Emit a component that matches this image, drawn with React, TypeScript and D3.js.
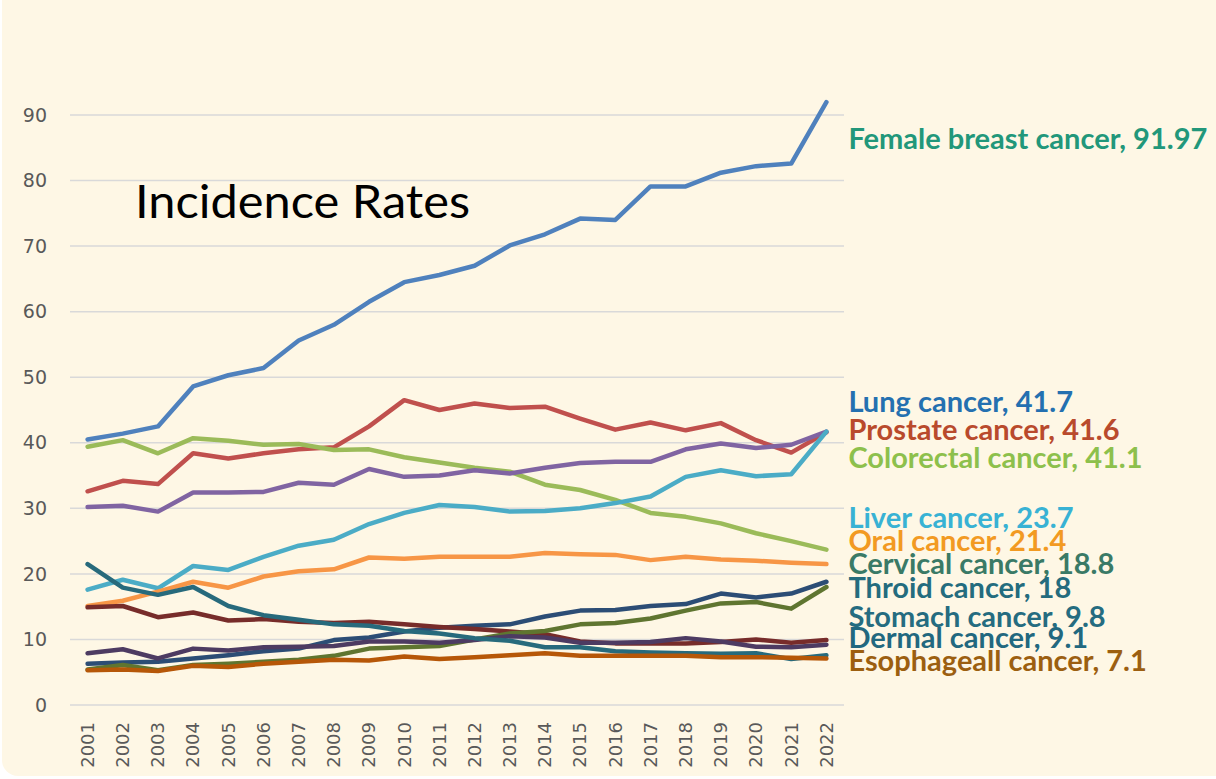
import React from 'react';
import * as d3 from 'd3';

const years = [
  '2001', '2002', '2003', '2004', '2005', '2006', '2007', '2008', '2009', '2010', '2011',
  '2012', '2013', '2014', '2015', '2016', '2017', '2018', '2019', '2020', '2021', '2022',
];

const yTicks = [0, 10, 20, 30, 40, 50, 60, 70, 80, 90];

// series in the order Excel drew them (later ones sit on top)
const blueSeries = [40.5, 41.4, 42.5, 48.6, 50.3, 51.4, 55.6, 58.0, 61.5, 64.5, 65.6, 67.0, 70.1, 71.8, 74.2, 74.0, 79.1, 79.1, 81.2, 82.2, 82.6, 91.97];
const redSeries = [32.6, 34.2, 33.7, 38.4, 37.6, 38.4, 39.0, 39.3, 42.5, 46.5, 45.0, 46.0, 45.3, 45.5, 43.7, 42.0, 43.1, 41.9, 43.0, 40.4, 38.5, 41.6];
const greenSeries = [39.4, 40.4, 38.4, 40.7, 40.3, 39.7, 39.8, 38.9, 39.0, 37.8, 37.0, 36.2, 35.6, 33.6, 32.8, 31.3, 29.3, 28.7, 27.7, 26.2, 25.0, 23.7];
const purpleSeries = [30.2, 30.4, 29.5, 32.4, 32.4, 32.5, 33.9, 33.6, 36.0, 34.8, 35.0, 35.8, 35.3, 36.2, 36.9, 37.1, 37.1, 39.0, 39.9, 39.2, 39.7, 41.7];
const cyanSeries = [17.6, 19.1, 17.8, 21.2, 20.6, 22.6, 24.3, 25.2, 27.6, 29.3, 30.5, 30.2, 29.5, 29.6, 30.0, 30.8, 31.8, 34.8, 35.8, 34.9, 35.2, 41.7];
const orangeSeries = [15.1, 15.9, 17.3, 18.8, 17.9, 19.6, 20.4, 20.7, 22.5, 22.3, 22.6, 22.6, 22.6, 23.2, 23.0, 22.9, 22.1, 22.6, 22.2, 22.0, 21.7, 21.5];
const navySeries = [6.3, 6.5, 6.6, 7.1, 7.6, 8.2, 8.6, 9.9, 10.3, 11.2, 11.8, 12.1, 12.3, 13.5, 14.4, 14.5, 15.1, 15.4, 17.0, 16.4, 17.0, 18.8];
const maroonSeries = [14.9, 15.1, 13.4, 14.1, 12.9, 13.1, 12.7, 12.5, 12.7, 12.3, 11.9, 11.6, 11.2, 10.8, 9.7, 9.4, 9.4, 9.4, 9.6, 10.0, 9.5, 9.9];
const oliveSeries = [5.4, 6.1, 5.3, 6.1, 6.3, 6.6, 6.9, 7.5, 8.6, 8.8, 9.0, 10.0, 10.9, 11.3, 12.3, 12.5, 13.2, 14.4, 15.5, 15.7, 14.7, 18.0];
const plumSeries = [7.9, 8.5, 7.1, 8.6, 8.3, 8.8, 8.9, 9.0, 9.7, 9.7, 9.5, 9.9, 10.5, 10.3, 9.5, 9.5, 9.6, 10.2, 9.7, 8.9, 8.8, 9.2];
const tealSeries = [21.5, 17.9, 16.8, 18.0, 15.1, 13.7, 13.0, 12.3, 12.1, 11.3, 10.9, 10.2, 9.8, 8.8, 8.8, 8.2, 8.0, 7.9, 7.8, 7.9, 7.0, 7.6];
const brownSeries = [5.3, 5.4, 5.2, 6.0, 5.8, 6.3, 6.6, 6.9, 6.8, 7.4, 7.0, 7.3, 7.6, 7.9, 7.5, 7.5, 7.5, 7.5, 7.3, 7.3, 7.2, 7.1];

const allSeries = [
  blueSeries, redSeries, greenSeries, purpleSeries, cyanSeries, orangeSeries,
  navySeries, maroonSeries, oliveSeries, plumSeries, tealSeries, brownSeries,
];
const lineColors = [
  '#4F81BD', '#C0504D', '#9BBB59', '#8064A2', '#4BACC6', '#F79646',
  '#2C4D75', '#772C2A', '#5F7530', '#4D3B62', '#276A7C', '#B65708',
];

// the text labels at the right, as typed in the original
const labelNames = [
  'Female breast cancer, 91.97', 'Lung cancer, 41.7', 'Prostate cancer, 41.6',
  'Colorectal cancer, 41.1', 'Liver cancer, 23.7', 'Oral cancer, 21.4',
  'Cervical cancer, 18.8', 'Throid cancer, 18', 'Stomach cancer, 9.8',
  'Dermal cancer, 9.1', 'Esophageall cancer, 7.1',
];
// where each label baseline sits, in axis units
const labelAt = [84.8, 44.7, 40.4, 36.2, 27.0, 23.5, 20.0, 16.3, 11.9, 8.7, 5.2];
const labelColors = [
  '#22977A', '#2470B0', '#B94A2C', '#8DC04C', '#38B2D4', '#F29A22',
  '#3A7A66', '#246C7E', '#256C80', '#22687F', '#9C5F10',
];

const W = 1216;
const H = 779;

const App = () => {
  const x = d3.scalePoint<string>().domain(years).range([70, 844]).padding(0.5);
  const y = d3.scaleLinear().domain([0, 90]).range([705, 115]);

  const line = d3.line<number>()
    .x((_, i) => x(years[i]) as number)
    .y(d => y(d));

  const lastX = x(years[years.length - 1]) as number;

  return (
    <svg width={W} height={H} style={{ position: 'absolute', left: 0, top: 0, display: 'block' }}>
      <rect x={0} y={0} width={W} height={H} fill="#ffffff" />
      <rect x={2} y={-20} width={W + 20} height={H - 3 + 20} rx={16} fill="#FEF7E5" />

      {yTicks.map(t => (
        <g key={t}>
          <line x1={70} x2={844} y1={y(t)} y2={y(t)} stroke="#D9D9D9" strokeWidth={1.5} />
          <text
            x={47}
            y={y(t)}
            dy="0.35em"
            textAnchor="end"
            fontFamily="'DejaVu Sans', sans-serif"
            fontSize={19}
            fill="#595959"
          >
            {t}
          </text>
        </g>
      ))}

      {years.map(yr => (
        <text
          key={yr}
          transform={`translate(${x(yr)}, 722) rotate(-90)`}
          dy="0.35em"
          textAnchor="end"
          fontFamily="'DejaVu Sans', sans-serif"
          fontSize={18}
          fill="#595959"
        >
          {yr}
        </text>
      ))}

      <text
        x={135}
        y={218}
        fontFamily="Lato, 'Open Sans', sans-serif"
        fontSize={46}
        textLength={335}
        lengthAdjust="spacingAndGlyphs"
        fill="#000000"
      >
        Incidence Rates
      </text>

      {allSeries.map((s, i) => (
        <path
          key={i}
          d={line(s) || ''}
          fill="none"
          stroke={lineColors[i]}
          strokeWidth={4.5}
          strokeLinejoin="round"
          strokeLinecap="round"
        />
      ))}

      {labelNames.map((name, i) => (
        <text
          key={name}
          x={lastX + 22}
          y={y(labelAt[i])}
          fontFamily="Lato, 'Open Sans', sans-serif"
          fontWeight="bold"
          fontSize={29}
          fill={labelColors[i]}
        >
          {name}
        </text>
      ))}
    </svg>
  );
};

export default App;
